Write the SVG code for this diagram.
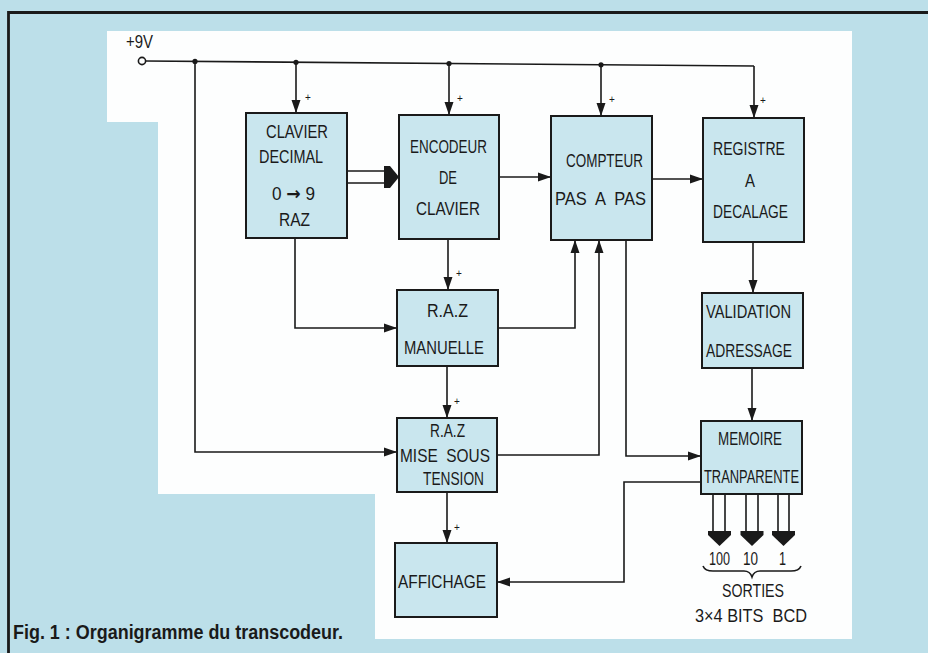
<svg xmlns="http://www.w3.org/2000/svg" width="928" height="653" viewBox="0 0 928 653">
<defs>
<style>
.bg{fill:#bcdfe9}
.box{fill:#c9e6ee;stroke:#1a1a1a;stroke-width:2}
.ln{fill:none;stroke:#1a1a1a;stroke-width:1.6}
.arr{fill:none;stroke:#1a1a1a;stroke-width:1.6;marker-end:url(#ah)}
.t{font-family:"Liberation Sans",Arial,sans-serif;font-size:18px;fill:#1a1a1a;white-space:pre}
.p{font-family:"Liberation Sans",Arial,sans-serif;font-size:10px;fill:#1a1a1a}
.dot{fill:#1a1a1a}
.blk{fill:#1a1a1a}
</style>
<marker id="ah" markerUnits="userSpaceOnUse" markerWidth="13" markerHeight="10" refX="13" refY="5" orient="auto">
<path d="M0,0.5 L13,5 L0,9.5 z" fill="#1a1a1a"/>
</marker>
</defs>
<rect class="bg" x="0" y="0" width="928" height="653"/>
<polygon points="107,31 852,31 852,639 375,639 375,494 158,494 158,122 107,122" fill="#fdfefe"/>
<path d="M8.5,653 L8.5,12.5 L928,12.5" fill="none" stroke="#1a1a1a" stroke-width="2.8"/>

<g id="connectors">
<circle cx="142" cy="61" r="3.6" fill="#fdfefe" stroke="#1a1a1a" stroke-width="1.6"/>
<path class="ln" d="M145.6,61 L754,66"/>
<path class="arr" d="M754,66 L754,118"/>
<circle class="dot" cx="195" cy="61.4" r="2.6"/>
<circle class="dot" cx="296" cy="62.3" r="2.6"/>
<circle class="dot" cx="449" cy="63.5" r="2.6"/>
<circle class="dot" cx="601" cy="64.8" r="2.6"/>
<path class="arr" d="M296,62.3 L296,113"/>
<path class="arr" d="M449,63.5 L449,115"/>
<path class="arr" d="M601,64.8 L601,116"/>
<path class="arr" d="M195,61.4 L195,452 L397,452"/>
<path class="arr" d="M295,238 L295,328 L397,328"/>
<path class="arr" d="M448,239 L448,290"/>
<path class="arr" d="M498,328 L575,328 L575,240"/>
<path class="arr" d="M447,366 L447,418"/>
<path class="arr" d="M497,455 L599,455 L599,240"/>
<path class="arr" d="M626,240 L626,456 L701,456"/>
<path class="arr" d="M499,177 L551,177"/>
<path class="arr" d="M652,179 L703,179"/>
<path class="arr" d="M753,242 L753,293"/>
<path class="arr" d="M752,368 L752,421"/>
<path class="arr" d="M701,482 L624,482 L624,582 L497,582"/>
<path class="arr" d="M447,492 L447,543"/>
<path class="ln" d="M347,171 L385,171 M347,183 L385,183"/>
<polygon class="blk" points="384,166 390,166 399,177 390,188 384,188"/>
<path class="ln" d="M713,494 L713,532 M725,494 L725,532 M746,494 L746,532 M758,494 L758,532 M778,494 L778,532 M789,494 L789,532"/>
<polygon class="blk" points="708,531 731,531 731,535 719.5,546 708,535"/>
<polygon class="blk" points="740.5,531 763.5,531 763.5,535 752,546 740.5,535"/>
<polygon class="blk" points="772,531 795,531 795,535 783.5,546 772,535"/>
<path class="ln" d="M703,566 Q705,571 713,571 L744,571 Q750,571 752,577 Q754,571 760,571 L791,571 Q799,571 801,566"/>
<text class="p" x="305" y="101">+</text>
<text class="p" x="457" y="102">+</text>
<text class="p" x="609" y="103">+</text>
<text class="p" x="760" y="104">+</text>
<text class="p" x="456" y="277">+</text>
<text class="p" x="454" y="405">+</text>
<text class="p" x="454" y="531">+</text>
</g>

<g id="vcc">
<text class="t" x="126" y="48" textLength="27" lengthAdjust="spacingAndGlyphs">+9V</text>
</g>

<g id="clavier">
<rect class="box" x="246" y="113" width="101" height="125"/>
<text class="t" x="266" y="138" textLength="62" lengthAdjust="spacingAndGlyphs">CLAVIER</text>
<text class="t" x="259" y="163" textLength="64" lengthAdjust="spacingAndGlyphs">DECIMAL</text>
<text class="t" x="272" y="200" textLength="43" lengthAdjust="spacingAndGlyphs">0 <tspan style="font-family:'DejaVu Sans',sans-serif;font-weight:bold">→</tspan> 9</text>
<text class="t" x="279" y="226" textLength="31" lengthAdjust="spacingAndGlyphs">RAZ</text>
</g>

<g id="encodeur">
<rect class="box" x="399" y="115" width="100" height="124"/>
<text class="t" x="410" y="153" textLength="77" lengthAdjust="spacingAndGlyphs">ENCODEUR</text>
<text class="t" x="439" y="184" textLength="18" lengthAdjust="spacingAndGlyphs">DE</text>
<text class="t" x="416" y="215" textLength="64" lengthAdjust="spacingAndGlyphs">CLAVIER</text>
</g>

<g id="compteur">
<rect class="box" x="551" y="116" width="101" height="124"/>
<text class="t" x="566" y="167" textLength="77" lengthAdjust="spacingAndGlyphs">COMPTEUR</text>
<text class="t" x="555" y="205" textLength="91" lengthAdjust="spacingAndGlyphs">PAS  A  PAS</text>
</g>

<g id="registre">
<rect class="box" x="703" y="118" width="101" height="124"/>
<text class="t" x="713" y="155" textLength="72" lengthAdjust="spacingAndGlyphs">REGISTRE</text>
<text class="t" x="745" y="187" textLength="10" lengthAdjust="spacingAndGlyphs">A</text>
<text class="t" x="713" y="218" textLength="75" lengthAdjust="spacingAndGlyphs">DECALAGE</text>
</g>

<g id="raz-manuelle">
<rect class="box" x="397" y="290" width="101" height="76"/>
<text class="t" x="427" y="317" textLength="41" lengthAdjust="spacingAndGlyphs">R.A.Z</text>
<text class="t" x="404" y="354" textLength="80" lengthAdjust="spacingAndGlyphs">MANUELLE</text>
</g>

<g id="raz-mise">
<rect class="box" x="397" y="418" width="100" height="74"/>
<text class="t" x="430" y="437" textLength="35" lengthAdjust="spacingAndGlyphs">R.A.Z</text>
<text class="t" x="400" y="462" textLength="90" lengthAdjust="spacingAndGlyphs">MISE  SOUS</text>
<text class="t" x="423" y="485" textLength="61" lengthAdjust="spacingAndGlyphs">TENSION</text>
</g>

<g id="validation">
<rect class="box" x="702" y="293" width="101" height="75"/>
<text class="t" x="706" y="318" textLength="85" lengthAdjust="spacingAndGlyphs">VALIDATION</text>
<text class="t" x="706" y="357" textLength="86" lengthAdjust="spacingAndGlyphs">ADRESSAGE</text>
</g>

<g id="memoire">
<rect class="box" x="701" y="421" width="101" height="73"/>
<text class="t" x="718" y="445" textLength="64" lengthAdjust="spacingAndGlyphs">MEMOIRE</text>
<text class="t" x="704" y="483" textLength="95" lengthAdjust="spacingAndGlyphs">TRANPARENTE</text>
</g>

<g id="affichage">
<rect class="box" x="395" y="543" width="102" height="74"/>
<text class="t" x="398" y="588" textLength="88" lengthAdjust="spacingAndGlyphs">AFFICHAGE</text>
</g>

<g id="sorties">
<text class="t" x="709" y="565" textLength="21" lengthAdjust="spacingAndGlyphs">100</text>
<text class="t" x="743" y="565" textLength="15" lengthAdjust="spacingAndGlyphs">10</text>
<text class="t" x="779" y="565" textLength="7" lengthAdjust="spacingAndGlyphs">1</text>
<text class="t" x="722" y="597" textLength="62" lengthAdjust="spacingAndGlyphs">SORTIES</text>
<text class="t" x="695" y="622" textLength="112" lengthAdjust="spacingAndGlyphs">3×4 BITS  BCD</text>
</g>

<g id="caption">
<text x="13" y="639" textLength="330" lengthAdjust="spacingAndGlyphs" style="font-family:'Liberation Sans',Arial,sans-serif;font-size:20px;font-weight:bold;fill:#1a1a1a">Fig. 1 : Organigramme du transcodeur.</text>
</g>
</svg>
